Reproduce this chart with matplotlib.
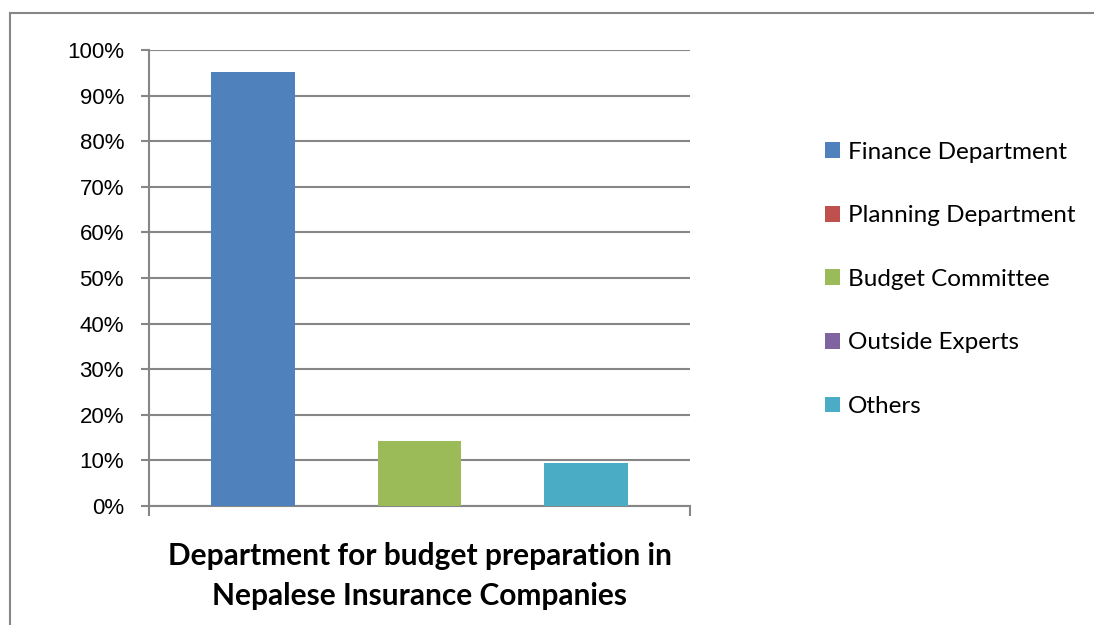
import matplotlib
matplotlib.use("Agg")
import matplotlib.pyplot as plt
from matplotlib.patches import Rectangle
from matplotlib.ticker import PercentFormatter

# survey shares (percent of companies)
departments = ["Finance Department", "Planning Department", "Budget Committee",
               "Outside Experts", "Others"]
shares = [95.2, 0.0, 14.3, 0.0, 9.5]
colors = ["#4F81BD", "#C0504D", "#9BBB59", "#8064A2", "#4BACC6"]
y_ticks = [0, 10, 20, 30, 40, 50, 60, 70, 80, 90, 100]
chart_title = "Department for budget preparation in\nNepalese Insurance Companies"

GRID = "#868686"

fig = plt.figure(figsize=(10.94, 6.25), dpi=100)
ax = fig.add_axes([0.1362, 0.1904, 0.4945, 0.7296])

# outer chart frame, cut off on the right and bottom
fig.patches.append(Rectangle((10 / 1094, -0.1), 1.2, 1.1 - 13 / 625,
                             transform=fig.transFigure, fill=False,
                             edgecolor=GRID, linewidth=1.5))

n = len(departments)
for i, (name, val, col) in enumerate(zip(departments, shares, colors)):
    ax.bar(i - (n - 1) / 2, val, width=1.0, color=col, label=name, zorder=3)

ax.set_xlim(-3.25, 3.25)
ax.set_ylim(0, 100)
ax.set_yticks(y_ticks)
ax.yaxis.set_major_formatter(PercentFormatter(decimals=0))
ax.yaxis.grid(True, color=GRID, linewidth=1.5, zorder=0)
ax.tick_params(axis="y", length=6, width=1.5, color=GRID, labelsize=16, pad=12)
ax.set_xticks([])
ax.set_xticks([-3.25, 3.25], minor=True)
ax.tick_params(axis="x", which="minor", length=7, width=1.5, color=GRID,
               labelbottom=False)
for lbl in ax.get_yticklabels():
    lbl.set_family("Liberation Sans")

for side in ["top", "right"]:
    ax.spines[side].set_visible(False)
for side in ["left", "bottom"]:
    ax.spines[side].set_color(GRID)
    ax.spines[side].set_linewidth(1.5)

ax.set_xlabel(chart_title, fontsize=21.5, fontweight="bold", family="Lato",
              labelpad=19, linespacing=1.52)

ax.legend(loc="center left", bbox_to_anchor=(0.7455, 0.553),
          bbox_transform=fig.transFigure, frameon=False,
          prop={"family": "Lato", "size": 17.5},
          handlelength=0.62, handleheight=0.62, handletextpad=0.32,
          labelspacing=1.75, borderaxespad=0)

fig.savefig("out.png", dpi=100)
